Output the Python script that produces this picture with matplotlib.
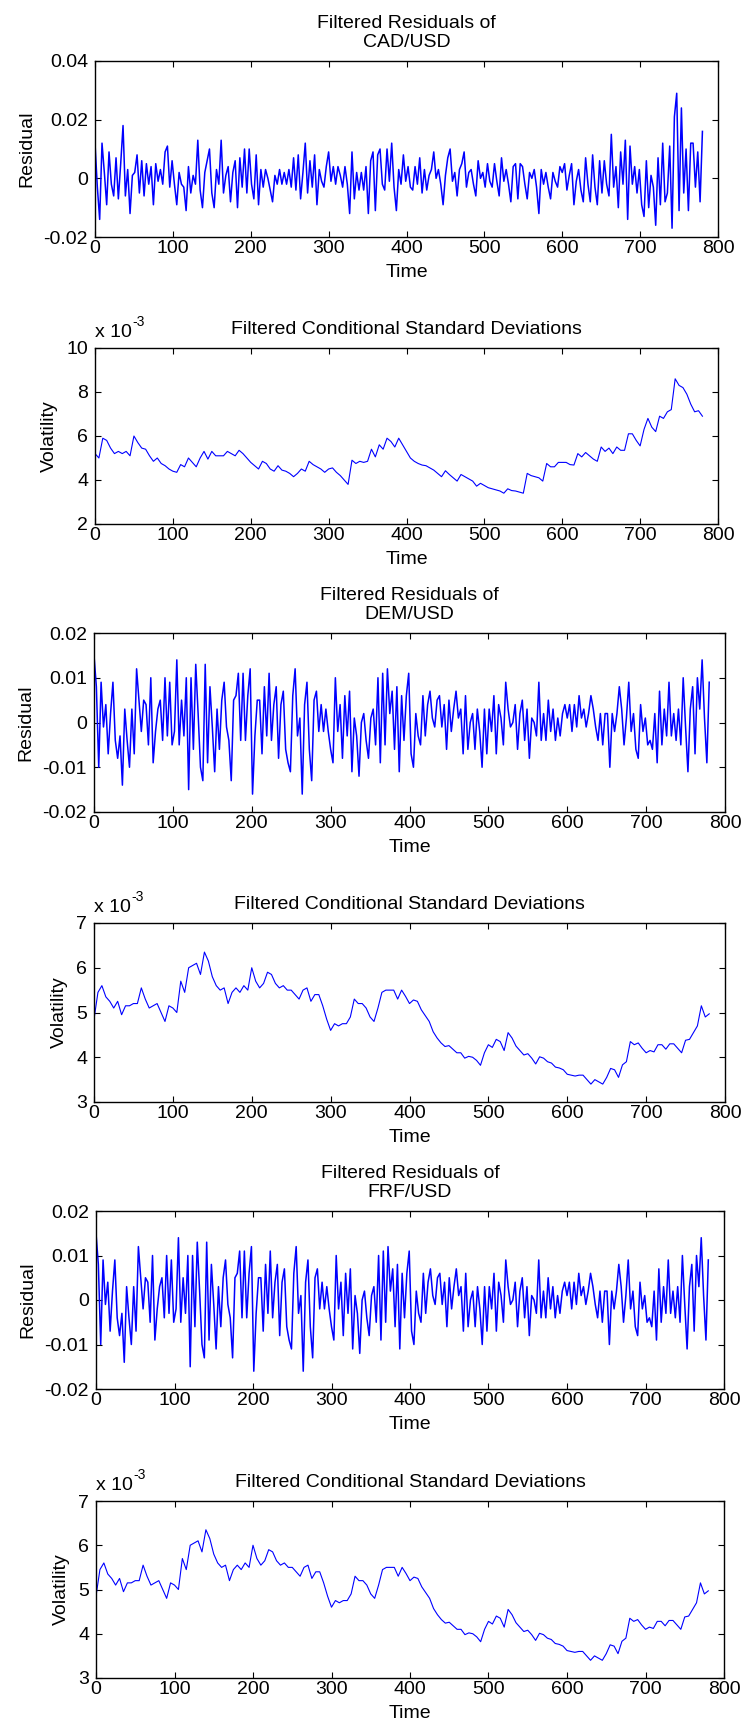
import numpy as np
import matplotlib
matplotlib.use("Agg")
import matplotlib.pyplot as plt

plt.rcParams['font.family'] = ['Liberation Sans', 'DejaVu Sans']
plt.rcParams['axes.unicode_minus'] = False

# ---------------- data ----------------
RESID_STEP = 3   # time units between residual samples
VOL_STEP = 5     # time units between volatility samples

# residuals, in units of 1e-3
cad_resid_e3 = [
    12, -3, -14, 12, 2, -9, 9, -2, -6, 7,
    -7, 5, 18, -6, 3, -12, 1, 2, 8, -5,
    6, -6, 5, -2, 4, -9, 5, -1, 3, -2,
    9, 11, -3, 6, -2, -9, 2, -2, -3, -11,
    4, -5, 1, -2, 13, -4, -10, 2, 6, 10,
    -5, -10, 3, -2, 13, -5, 1, 4, -8, 2,
    6, -10, 7, -3, 10, -5, 10, -2, -7, 8,
    -9, 3, -3, 3, 0, -4, -8, 1, -2, 3,
    -2, 2, -2, 3, -3, 7, -4, 8, -7, 2,
    12, -5, 6, -3, 8, -9, 3, -1, -3, 4,
    9, -1, 4, -2, 4, 1, -3, 4, -2, -12,
    9, -7, 2, -4, 2, -4, 4, -12, 6, 9,
    -11, 8, 10, -2, -4, 10, -1, 12, -3, -11,
    3, -2, 8, -1, 4, -3, -4, 4, -2, 7,
    -5, 3, -4, 1, 3, 9, 0, 3, -2, -9,
    1, 7, 10, -1, 2, -6, 3, 5, 9, -3,
    2, 3, -2, -6, 6, 0, 2, -3, 5, -1,
    -3, 5, -1, -6, 7, -1, 3, -2, -8, 4,
    5, -7, 5, 4, -2, -7, 2, 0, 3, -3,
    -12, 3, -2, 2, -3, -7, 2, -1, -3, 4,
    2, 5, -4, 1, 5, -9, -1, 3, -4, -8,
    7, -2, -8, 8, -3, -9, 6, -5, 6, -2,
    -6, 15, -3, 4, -10, 9, -2, 13, -14, 11,
    -2, 4, -5, 3, -9, -13, 6, -10, 1, -3,
    -16, 7, -9, 12, -8, -5, 11, -17, 21, 29,
    -11, 24, -5, 10, -11, 12, 12, -3, 9, -8, 16,
]

dem_resid_e3 = [
    15, 8, -10, 9, -1, 4, -7, 2, 9, -4,
    -8, -3, -14, 3, -4, -10, 3, -7, 12, 5,
    -2, 5, 4, -5, 10, -9, -2, 3, 5, -4,
    10, -3, 9, -5, -2, 14, -5, 5, -3, 10,
    -15, 10, -6, 13, 2, -10, -13, 13, -9, 8,
    -1, -11, 3, -6, 5, 9, -1, -4, -13, 5,
    6, 11, -4, 11, -4, 6, 12, -16, -3, 5,
    5, -7, 8, -3, 11, -4, 4, 8, -8, 4,
    7, -6, -9, -11, 6, 12, -3, 1, -16, 4,
    9, -6, -13, 5, 7, -2, 4, -2, 3, -2,
    -6, -9, 10, -2, 4, -8, 6, -3, 7, -11,
    1, -3, -12, 0, 2, -4, -8, 1, 3, -5,
    10, -9, 11, -5, 12, 2, 7, -6, 8, -11,
    6, -4, 6, 11, -7, -10, 2, -3, -5, 6,
    -3, 4, 7, 1, -1, 5, 6, -1, 4, -6,
    5, -2, 3, 7, 1, 3, -7, 6, -6, 0,
    2, -6, 3, -2, -10, 3, -7, 3, -2, 6,
    -7, 4, 1, -5, 9, 3, -1, 0, 4, -6,
    2, 5, -4, 3, -8, 1, 0, -3, 9, -4,
    2, -4, 5, -2, 3, -4, 1, -3, 2, 4,
    1, 4, -2, 4, -1, 6, 1, 3, -1, 2,
    6, 3, -1, -4, 2, -5, 2, 2, -10, 2,
    -2, 2, 8, 3, -5, 1, 9, -2, 2, -6,
    -8, 4, -2, 1, -5, -4, -6, 2, -9, 7,
    -5, 3, -3, 9, -3, 2, -4, 3, -5, 10,
    -1, -11, 3, 8, -7, 10, 3, 14, 1, -9, 9,
]

# the FRF residuals in the picture are practically identical to the DEM ones
frf_resid_e3 = list(dem_resid_e3)

# conditional standard deviations, in units of 1e-3
cad_vol_e3 = [
    5.2, 5.0, 5.9, 5.8, 5.45, 5.2, 5.3, 5.2, 5.3, 5.1,
    6.0, 5.7, 5.45, 5.4, 5.1, 4.85, 5.0, 4.75, 4.65, 4.5,
    4.4, 4.35, 4.7, 4.6, 5.0, 4.8, 4.6, 5.0, 5.3, 4.95,
    5.3, 5.1, 5.1, 5.1, 5.3, 5.2, 5.1, 5.35, 5.2, 5.0,
    4.8, 4.65, 4.5, 4.85, 4.75, 4.5, 4.4, 4.65, 4.45, 4.4,
    4.3, 4.15, 4.3, 4.5, 4.4, 4.85, 4.7, 4.6, 4.5, 4.35,
    4.5, 4.55, 4.35, 4.2, 4.0, 3.8, 4.9, 4.75, 4.85, 4.8,
    4.85, 5.4, 5.05, 5.6, 5.4, 5.9, 5.75, 5.5, 5.9, 5.6,
    5.3, 5.0, 4.85, 4.75, 4.68, 4.65, 4.55, 4.45, 4.3, 4.15,
    4.42, 4.25, 4.1, 3.95, 4.25, 4.15, 4.05, 3.95, 3.72, 3.85,
    3.75, 3.65, 3.6, 3.55, 3.5, 3.4, 3.6, 3.52, 3.5, 3.45,
    3.4, 4.3, 4.2, 4.15, 4.1, 3.95, 4.75, 4.6, 4.6, 4.8,
    4.8, 4.8, 4.7, 4.68, 5.2, 5.05, 5.25, 5.1, 4.95, 4.85,
    5.5, 5.3, 5.45, 5.2, 5.5, 5.35, 5.35, 6.1, 6.1, 5.8,
    5.55, 6.3, 6.8, 6.4, 6.2, 6.9, 6.8, 7.1, 7.2, 8.6,
    8.3, 8.2, 7.9, 7.45, 7.1, 7.15, 6.9,
]

dem_vol_e3 = [
    4.85, 5.45, 5.6, 5.35, 5.25, 5.1, 5.25, 4.95, 5.15, 5.15,
    5.2, 5.2, 5.55, 5.3, 5.1, 5.15, 5.2, 5.0, 4.8, 5.15,
    5.1, 5.0, 5.7, 5.45, 6.0, 6.05, 6.1, 5.85, 6.35, 6.15,
    5.8, 5.6, 5.5, 5.55, 5.2, 5.45, 5.55, 5.45, 5.6, 5.5,
    6.0, 5.7, 5.55, 5.65, 5.9, 5.85, 5.65, 5.55, 5.6, 5.5,
    5.5, 5.4, 5.3, 5.5, 5.55, 5.25, 5.4, 5.4, 5.15, 4.85,
    4.6, 4.75, 4.7, 4.75, 4.75, 4.9, 5.3, 5.2, 5.2, 5.1,
    4.9, 4.8, 5.1, 5.45, 5.5, 5.5, 5.5, 5.3, 5.5, 5.36,
    5.2, 5.28, 5.25, 5.06, 4.93, 4.8, 4.57, 4.43, 4.32, 4.24,
    4.26, 4.18, 4.1, 4.1, 3.98, 4.02, 4.0, 3.93, 3.82, 4.1,
    4.28, 4.22, 4.4, 4.35, 4.15, 4.55, 4.43, 4.25, 4.15, 4.05,
    4.08, 3.98, 3.85, 4.01, 3.98, 3.9, 3.87, 3.78, 3.76, 3.72,
    3.62, 3.6, 3.58, 3.6, 3.6, 3.5, 3.4, 3.5, 3.45, 3.4,
    3.55, 3.75, 3.72, 3.55, 3.83, 3.9, 4.35, 4.28, 4.32, 4.2,
    4.1, 4.15, 4.12, 4.28, 4.28, 4.18, 4.3, 4.3, 4.2, 4.1,
    4.38, 4.4, 4.55, 4.7, 5.15, 4.9, 4.97,
]

# the FRF volatilities in the picture are practically identical to the DEM ones
frf_vol_e3 = list(dem_vol_e3)

x_ticks = [0, 100, 200, 300, 400, 500, 600, 700, 800]
cad_resid_ticks = [-0.02, 0, 0.02, 0.04]
cad_resid_labels = ['-0.02', '0', '0.02', '0.04']
resid_ticks = [-0.02, -0.01, 0, 0.01, 0.02]
resid_labels = ['-0.02', '-0.01', '0', '0.01', '0.02']
cad_vol_ticks = [2, 4, 6, 8, 10]
vol_ticks = [3, 4, 5, 6, 7]

# ---------------- figure ----------------
W, H = 743, 1730
fig = plt.figure(figsize=(W / 100, H / 100), dpi=100)


def rect(l, t, r, b):
    return [l / W, 1 - b / H, (r - l) / W, (b - t) / H]


BLUE = '#0000ff'
FS = 14

panels = [
    dict(kind='resid', data=cad_resid_e3, box=(95, 61, 718, 237),
         ticks=cad_resid_ticks, labels=cad_resid_labels,
         title='Filtered Residuals of\nCAD/USD'),
    dict(kind='vol', data=cad_vol_e3, box=(95, 348, 718, 524),
         ticks=cad_vol_ticks, labels=[str(v) for v in cad_vol_ticks],
         title='Filtered Conditional Standard Deviations'),
    dict(kind='resid', data=dem_resid_e3, box=(94, 633, 725, 812),
         ticks=resid_ticks, labels=resid_labels,
         title='Filtered Residuals of\nDEM/USD'),
    dict(kind='vol', data=dem_vol_e3, box=(94, 923, 725, 1102),
         ticks=vol_ticks, labels=[str(v) for v in vol_ticks],
         title='Filtered Conditional Standard Deviations'),
    dict(kind='resid', data=frf_resid_e3, box=(96, 1211, 724, 1389),
         ticks=resid_ticks, labels=resid_labels,
         title='Filtered Residuals of\nFRF/USD'),
    dict(kind='vol', data=frf_vol_e3, box=(96, 1501, 724, 1678),
         ticks=vol_ticks, labels=[str(v) for v in vol_ticks],
         title='Filtered Conditional Standard Deviations'),
]

for p in panels:
    ax = fig.add_axes(rect(*p['box']))
    vals = np.asarray(p['data'], dtype=float)
    if p['kind'] == 'resid':
        t = np.arange(len(vals)) * RESID_STEP
        ax.plot(t, vals * 1e-3, color=BLUE, lw=1.1)
        ax.set_ylabel('Residual', fontsize=FS, labelpad=6)
    else:
        t = np.arange(len(vals)) * VOL_STEP
        ax.plot(t, vals, color=BLUE, lw=0.8)
        ax.set_ylabel('Volatility', fontsize=FS, labelpad=6)
        ax.annotate('x 10', xy=(0, 1), xycoords='axes fraction',
                    xytext=(0, 8), textcoords='offset points',
                    ha='left', va='baseline', fontsize=FS)
        ax.annotate('-3', xy=(0, 1), xycoords='axes fraction',
                    xytext=(27, 16), textcoords='offset points',
                    ha='left', va='baseline', fontsize=10)
    ax.set_xlim(0, 800)
    ax.set_ylim(p['ticks'][0], p['ticks'][-1])
    ax.set_xticks(x_ticks)
    ax.set_xticklabels([str(v) for v in x_ticks])
    ax.set_yticks(p['ticks'])
    ax.set_yticklabels(p['labels'])
    ax.tick_params(direction='in', top=True, right=True, length=4, width=0.8,
                   labelsize=FS)
    ax.tick_params(axis='x', pad=2)
    ax.tick_params(axis='y', pad=5)
    for s in ax.spines.values():
        s.set_linewidth(1.0)
    ax.set_xlabel('Time', fontsize=FS, labelpad=5)
    ax.set_title(p['title'], fontsize=FS, pad=10, linespacing=1.15)

fig.savefig('out.png', dpi=100)
